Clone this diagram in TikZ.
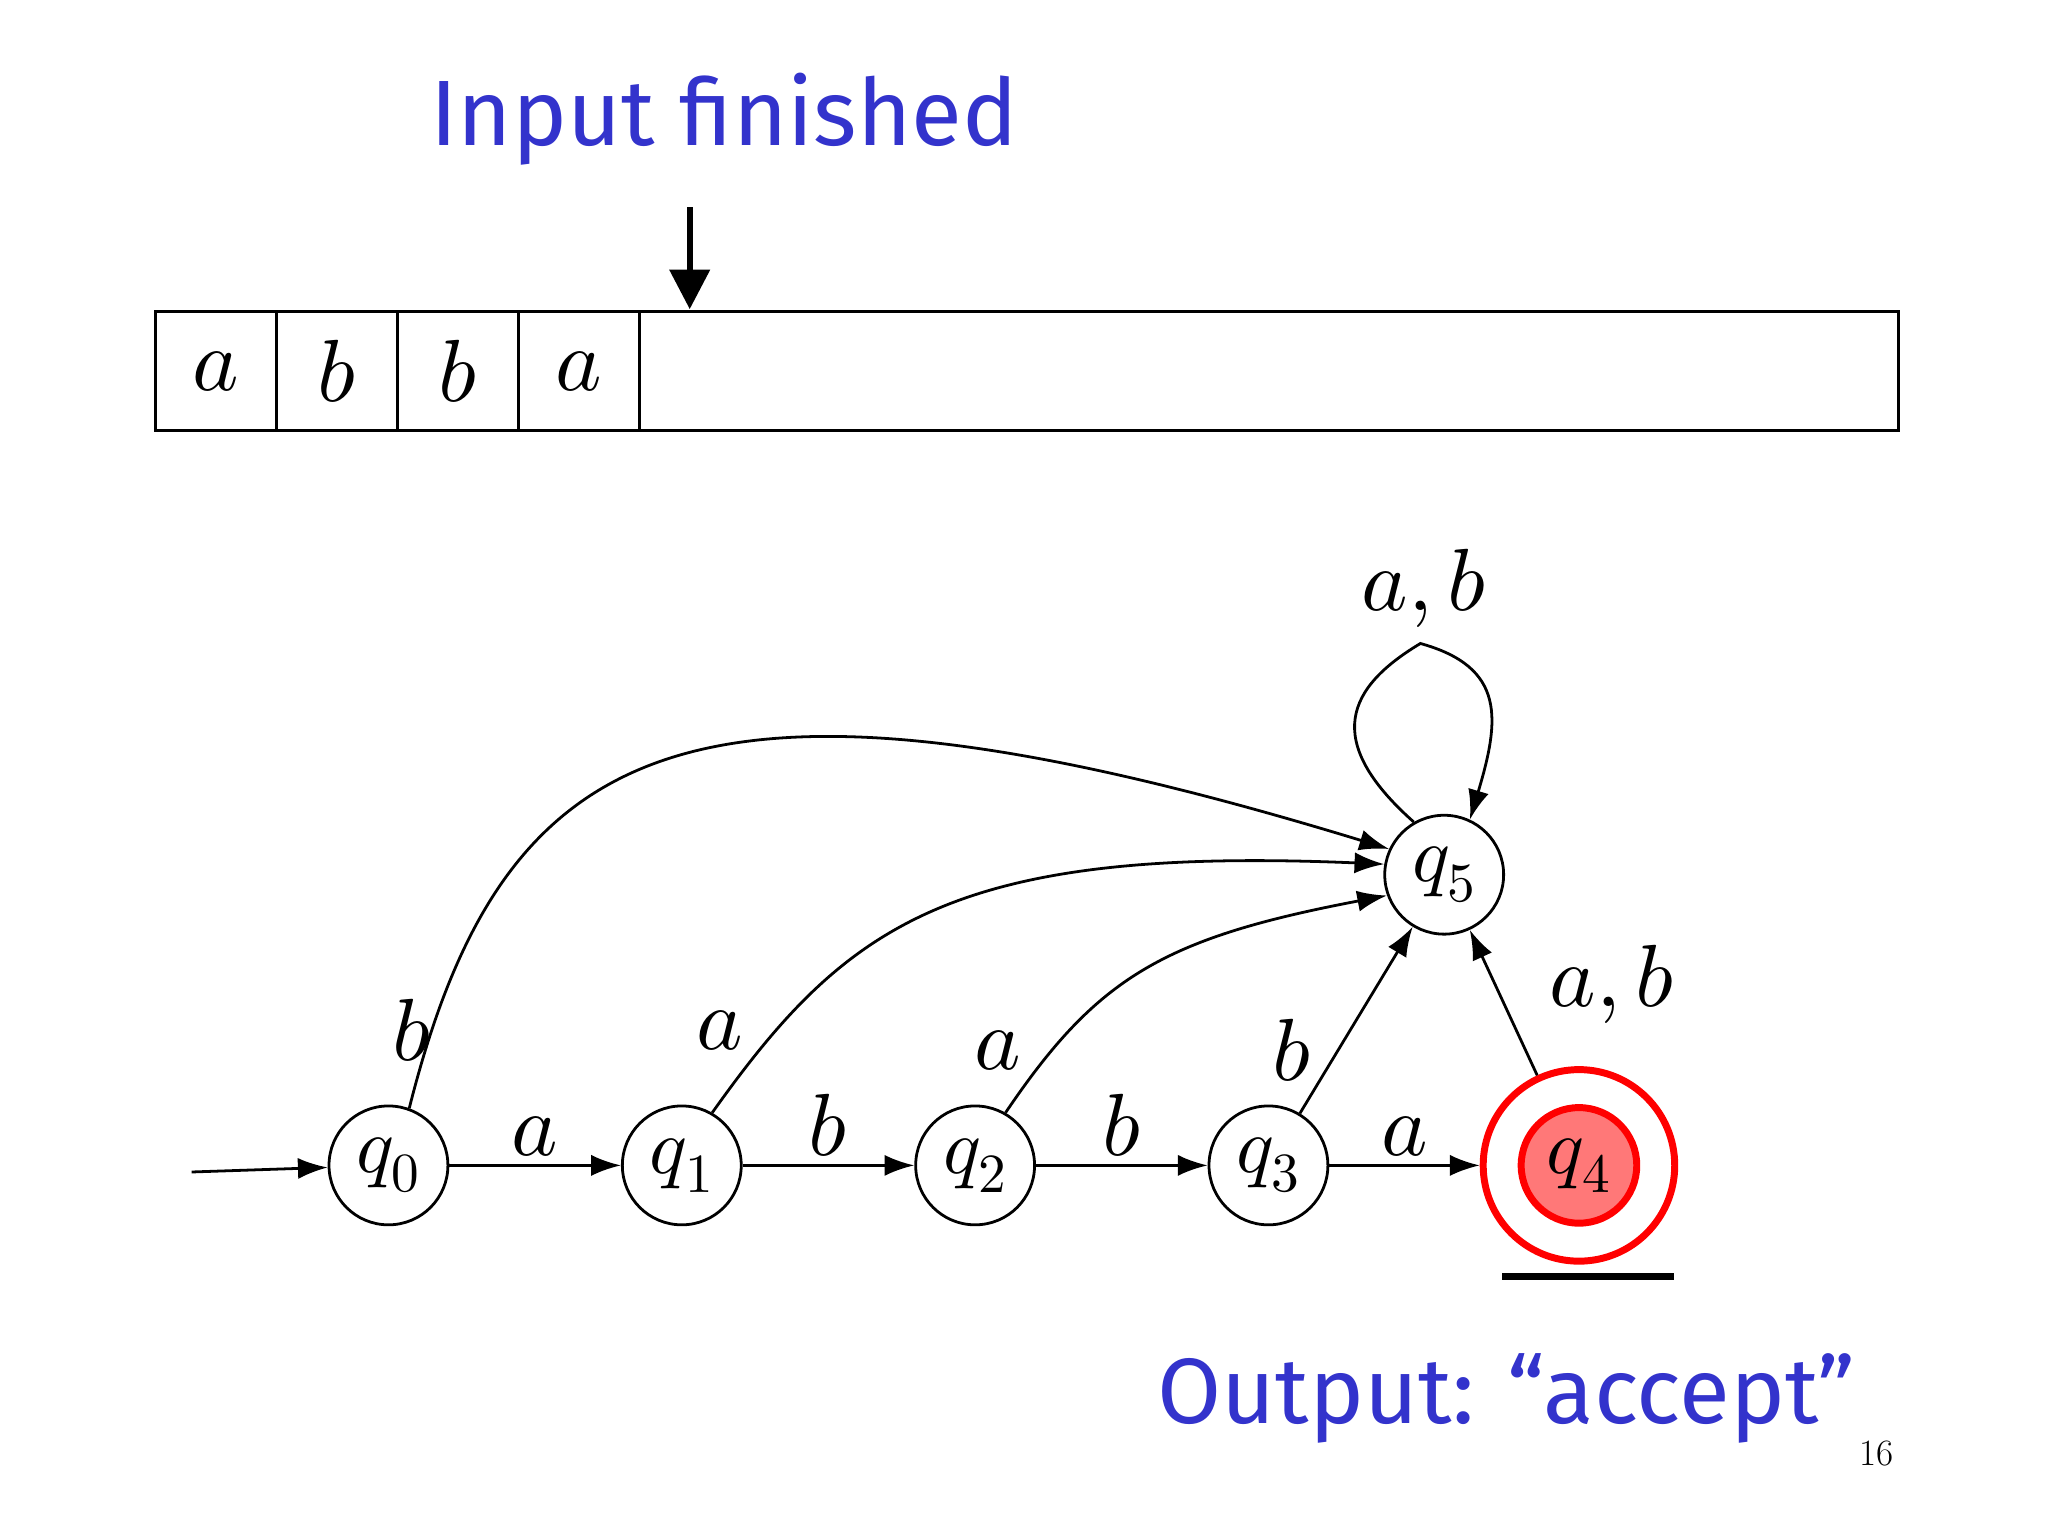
\documentclass[tikz,border=0pt]{standalone}
\usepackage{fontspec}
\usepackage{unicode-math}
\newfontfamily\slidefont{Fira Sans}
\usetikzlibrary{arrows.meta}
\definecolor{slideblue}{RGB}{51,51,204}
\definecolor{acceptred}{RGB}{255,0,0}
\definecolor{acceptfill}{RGB}{255,120,120}
\tikzset{
  state/.style={circle,draw=black,line width=1.2pt,minimum size=1.8cm,inner sep=0pt,font=\fontsize{34}{40}\selectfont},
  edge/.style={-{Latex[length=0.45cm,width=0.32cm]},line width=1.2pt},
  lbl/.style={font=\fontsize{38}{44}\selectfont},
  cell/.style={draw=black,line width=1.2pt,minimum width=1.83cm,minimum height=1.8cm,inner sep=0pt,font=\fontsize{38}{44}\selectfont},
  blue text/.style={text=slideblue,font=\slidefont\fontsize{40}{48}\selectfont}
}
\begin{document}
\begin{tikzpicture}[x=0.02cm,y=-0.02cm]
  \useasboundingbox (0,0) rectangle (1550,1162);
  % heading and head arrow
  \node [blue text] (title) at (548,90) {Input finished};
  \coordinate (headtop) at (522,157);
  \coordinate (headbot) at (522,234);
  \draw [-{Triangle[length=0.6cm,width=0.6cm]},line width=2.5pt] (headtop) to (headbot);
  % tape
  \node [cell] (c1) at (163.5,281) {$a$};
  \node [cell] (c2) at (255,281) {$b$};
  \node [cell] (c3) at (346.5,281) {$b$};
  \node [cell] (c4) at (438,281) {$a$};
  \coordinate (tapetl) at (484,236);
  \coordinate (tapebr) at (1437,326);
  \draw [line width=1.2pt] (tapetl) rectangle (tapebr);
  % states
  \node [state] (q0) at (294,882) {$q_0$};
  \node [state] (q1) at (516,882) {$q_1$};
  \node [state] (q2) at (738,882) {$q_2$};
  \node [state] (q3) at (960,882) {$q_3$};
  \node [state] (q5) at (1093,662) {$q_5$};
  \node [circle,draw=acceptred,line width=3pt,minimum size=2.9cm] (q4out) at (1195,882) {};
  \node [state,draw=acceptred,fill=acceptfill,line width=3pt,minimum size=1.75cm] (q4) at (1195,882) {$q_4$};
  \coordinate (start) at (145,887);
  \coordinate (ul1) at (1137,966);
  \coordinate (ul2) at (1267,966);
  % transitions
  \draw [edge] (start) to (q0);
  \draw [edge] (q0) to node [lbl,above] {$a$} (q1);
  \draw [edge] (q1) to node [lbl,above] {$b$} (q2);
  \draw [edge] (q2) to node [lbl,above] {$b$} (q3);
  \draw [edge] (q3) to node [lbl,above] {$a$} (q4out);
  \draw [edge] (q0.70) .. controls (380,560) and (520,480) .. (q5.155);
  \node [lbl] (lb0) at (312,780) {$b$};
  \draw [edge] (q1.60) .. controls (640,700) and (720,640) .. (q5.170);
  \node [lbl] (la1) at (545,780) {$a$};
  \draw [edge] (q2.60) .. controls (830,740) and (880,710) .. (q5.200);
  \node [lbl] (la2) at (755,795) {$a$};
  \draw [edge] (q3) to (q5);
  \node [lbl] (lb3) at (978,795) {$b$};
  \draw [edge] (q4out) to (q5);
  \node [lbl] (lab4) at (1220,745) {$a,b$};
  \draw [edge] (q5.120) .. controls (1000,560) and (1020,520) .. (1075,487)
    .. controls (1140,505) and (1135,545) .. (q5.65);
  \node [lbl] (lab5) at (1078,445) {$a,b$};
  \draw [line width=3pt] (ul1) to (ul2);
  % output
  \node [blue text] (output) at (1140,1058) {Output: “accept”};
  \node [font=\fontsize{16}{18}\selectfont] (page) at (1420,1100) {16};
\end{tikzpicture}
\end{document}
